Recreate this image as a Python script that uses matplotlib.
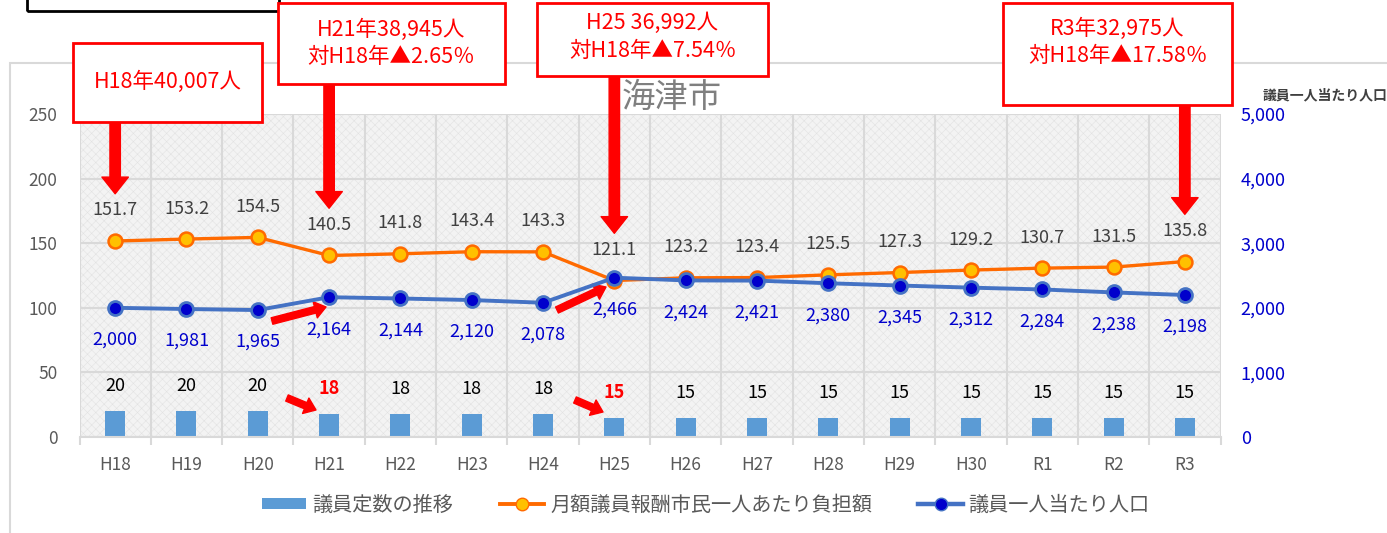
import numpy as np
import matplotlib
matplotlib.use('Agg')
import matplotlib.pyplot as plt
from matplotlib.patches import Rectangle, Patch
from matplotlib.lines import Line2D
from matplotlib.transforms import blended_transform_factory

plt.rcParams['font.family'] = ['Noto Sans CJK JP', 'DejaVu Sans']
plt.rcParams['hatch.linewidth'] = 0.4

# データ
years = ['H18', 'H19', 'H20', 'H21', 'H22', 'H23', 'H24', 'H25',
         'H26', 'H27', 'H28', 'H29', 'H30', 'R1', 'R2', 'R3']
seats = [20, 20, 20, 18, 18, 18, 18, 15, 15, 15, 15, 15, 15, 15, 15, 15]
burden = [151.7, 153.2, 154.5, 140.5, 141.8, 143.4, 143.3, 121.1,
          123.2, 123.4, 125.5, 127.3, 129.2, 130.7, 131.5, 135.8]
pop_per_member = [2000, 1981, 1965, 2164, 2144, 2120, 2078, 2466,
                  2424, 2421, 2380, 2345, 2312, 2284, 2238, 2198]

# 吹き出し (年のインデックス, テキスト)
callouts = [(0, 'H18年40,007人'),
            (3, 'H21年38,945人\n対H18年▲2.65％'),
            (7, 'H25 36,992人\n対H18年▲7.54％'),
            (15, 'R3年32,975人\n対H18年▲17.58％')]
red_idx = [3, 7]  # 定数が減った年

W, H = 1387, 533
def fx(x): return x / W
def fy(y): return 1 - y / H

fig = plt.figure(figsize=(W / 100, H / 100), dpi=100)
ax = fig.add_axes([fx(79.5), fy(437), (1220.5 - 79.5) / W, (437 - 114) / H])
ax2 = ax.twinx()

x = np.arange(len(years))

# 背景
ax.set_facecolor('#f3f3f3')
ax.add_patch(Rectangle((0, 0), 1, 1, transform=ax.transAxes, facecolor='none',
                       edgecolor='#e2e2e2', hatch='xxxx', lw=0, zorder=0.1))
ax.set_axisbelow(True)

# 棒
ax.bar(x, seats, width=0.28, color='#5b9bd5', zorder=2)
for i, v in enumerate(seats):
    if i in red_idx:
        ax.annotate(str(v), (i, v), xytext=(0, 18), textcoords='offset points',
                    ha='center', va='center', fontsize=13, color='red', fontweight='bold')
    else:
        ax.annotate(str(v), (i, v), xytext=(0, 18), textcoords='offset points',
                    ha='center', va='center', fontsize=13, color='black')

# 月額議員報酬市民一人あたり負担額
ax.plot(x, burden, color='#ff6a00', lw=2.4, marker='o', ms=10,
        mfc='#ffc000', mec='#ff6a00', mew=1.8, zorder=3)
for i, v in enumerate(burden):
    ax.annotate(f'{v:.1f}', (i, v), xytext=(0, 22), textcoords='offset points',
                ha='center', va='center', fontsize=13, color='#404040')

# 議員一人当たり人口
ax2.plot(x, pop_per_member, color='#4472c4', lw=2.8, marker='o', ms=10,
         mfc='#0000cc', mec='#4472c4', mew=2, zorder=3)
for i, v in enumerate(pop_per_member):
    ax2.annotate(f'{v:,}', (i, v), xytext=(0, -23), textcoords='offset points',
                 ha='center', va='center', fontsize=13, color='#0000cc')

# 軸
ax.set_xlim(-0.5, len(years) - 0.5)
ax.set_ylim(0, 250)
ax2.set_ylim(0, 5000)
ax.set_yticks(np.arange(0, 251, 50))
ax2.set_yticks(np.arange(0, 5001, 1000))
ax2.set_yticklabels([f'{v:,}' for v in range(0, 5001, 1000)])
ax.set_xticks(x)
ax.set_xticklabels(years)
ax.set_xticks(np.arange(-0.5, len(years), 1), minor=True)
ax.grid(which='minor', axis='x', color='#d9d9d9', lw=1.5)
ax.grid(which='major', axis='y', color='#d9d9d9', lw=1.5)
ax.tick_params(axis='x', which='major', length=0, pad=14, labelsize=12.5, labelcolor='#595959')
ax.tick_params(axis='x', which='minor', length=6, width=1.5, color='#d9d9d9')
ax.tick_params(axis='y', length=0, pad=16, labelsize=12.5, labelcolor='#595959')
ax2.tick_params(axis='y', length=0, pad=14.5, labelsize=13, labelcolor='#0000cc')
for a in (ax, ax2):
    for s in a.spines.values():
        s.set_visible(False)
ax.spines['bottom'].set_visible(True)
ax.spines['bottom'].set_color('#d9d9d9')
ax.spines['bottom'].set_linewidth(1.5)

fig.text(fx(1325), fy(95), '議員一人当たり人口', ha='center', va='center',
         fontsize=10, fontweight='bold', color='#404040')
fig.text(fx(672), fy(97), '海津市', ha='center', va='center', fontsize=24, color='#7f7f7f')

# 外枠
fig.add_artist(Rectangle((fx(10), fy(540)), (1400 - 10) / W, (540 - 63) / H,
                         transform=fig.transFigure, fill=False, ec='#d9d9d9', lw=1.5))
fig.add_artist(Rectangle((fx(27), fy(11)), (279 - 27) / W, 20 / H,
                         transform=fig.transFigure, fill=False, ec='black', lw=2))

# 吹き出しの箱 (left, top, right, bottom) ピクセル
boxes = [(73, 43, 262, 122), (278, 3, 505, 84), (537, 3, 768, 76), (1003, 3, 1232, 105)]
text_y = [82, 43, 37, 42]
bt = blended_transform_factory(ax.transData, fig.transFigure)
for (idx, label), (l, t, r, b), ty in zip(callouts, boxes, text_y):
    fig.add_artist(Rectangle((fx(l), fy(b)), (r - l) / W, (b - t) / H,
                             transform=fig.transFigure, fc='white', ec='red', lw=2, zorder=5))
    fig.text(fx((l + r) / 2), fy(ty), label, ha='center', va='center', fontsize=15.5,
             color='red', linespacing=1.3, zorder=6)
    ax.annotate('', xy=(idx, burden[idx]), xycoords='data',
                xytext=(idx, fy(b)), textcoords=bt, annotation_clip=False,
                arrowprops=dict(arrowstyle='simple,head_width=1.9,head_length=1.2,tail_width=0.75',
                                mutation_scale=10, color='red', shrinkA=0, shrinkB=34))

# 小さい矢印
small_arrows = [((272, 321), (326, 307)), ((557, 310), (606, 287)),
                ((287, 398), (316, 410)), ((575, 400), (603, 412))]
for (x0, y0), (x1, y1) in small_arrows:
    ax.annotate('', xy=(fx(x1), fy(y1)), xycoords='figure fraction',
                xytext=(fx(x0), fy(y0)), textcoords='figure fraction',
                arrowprops=dict(arrowstyle='simple,head_width=1.5,head_length=1.0,tail_width=0.6',
                                mutation_scale=8, color='red', shrinkA=0, shrinkB=0))

# 凡例
handles = [Patch(facecolor='#5b9bd5'),
           Line2D([], [], color='#ff6a00', lw=2.8, marker='o', ms=9, mfc='#ffc000', mec='#ff6a00'),
           Line2D([], [], color='#4472c4', lw=3.2, marker='o', ms=9, mfc='#0000cc', mec='#4472c4')]
labels = ['議員定数の推移', '月額議員報酬市民一人あたり負担額', '議員一人当たり人口']
fig.legend(handles, labels, loc='center', bbox_to_anchor=(fx(706), fy(505)), ncol=3,
           frameon=False, fontsize=14.5, labelcolor='#595959', handlelength=2.2,
           handleheight=0.5, columnspacing=2.3, handletextpad=0.3)

fig.savefig('out.png', dpi=100)
